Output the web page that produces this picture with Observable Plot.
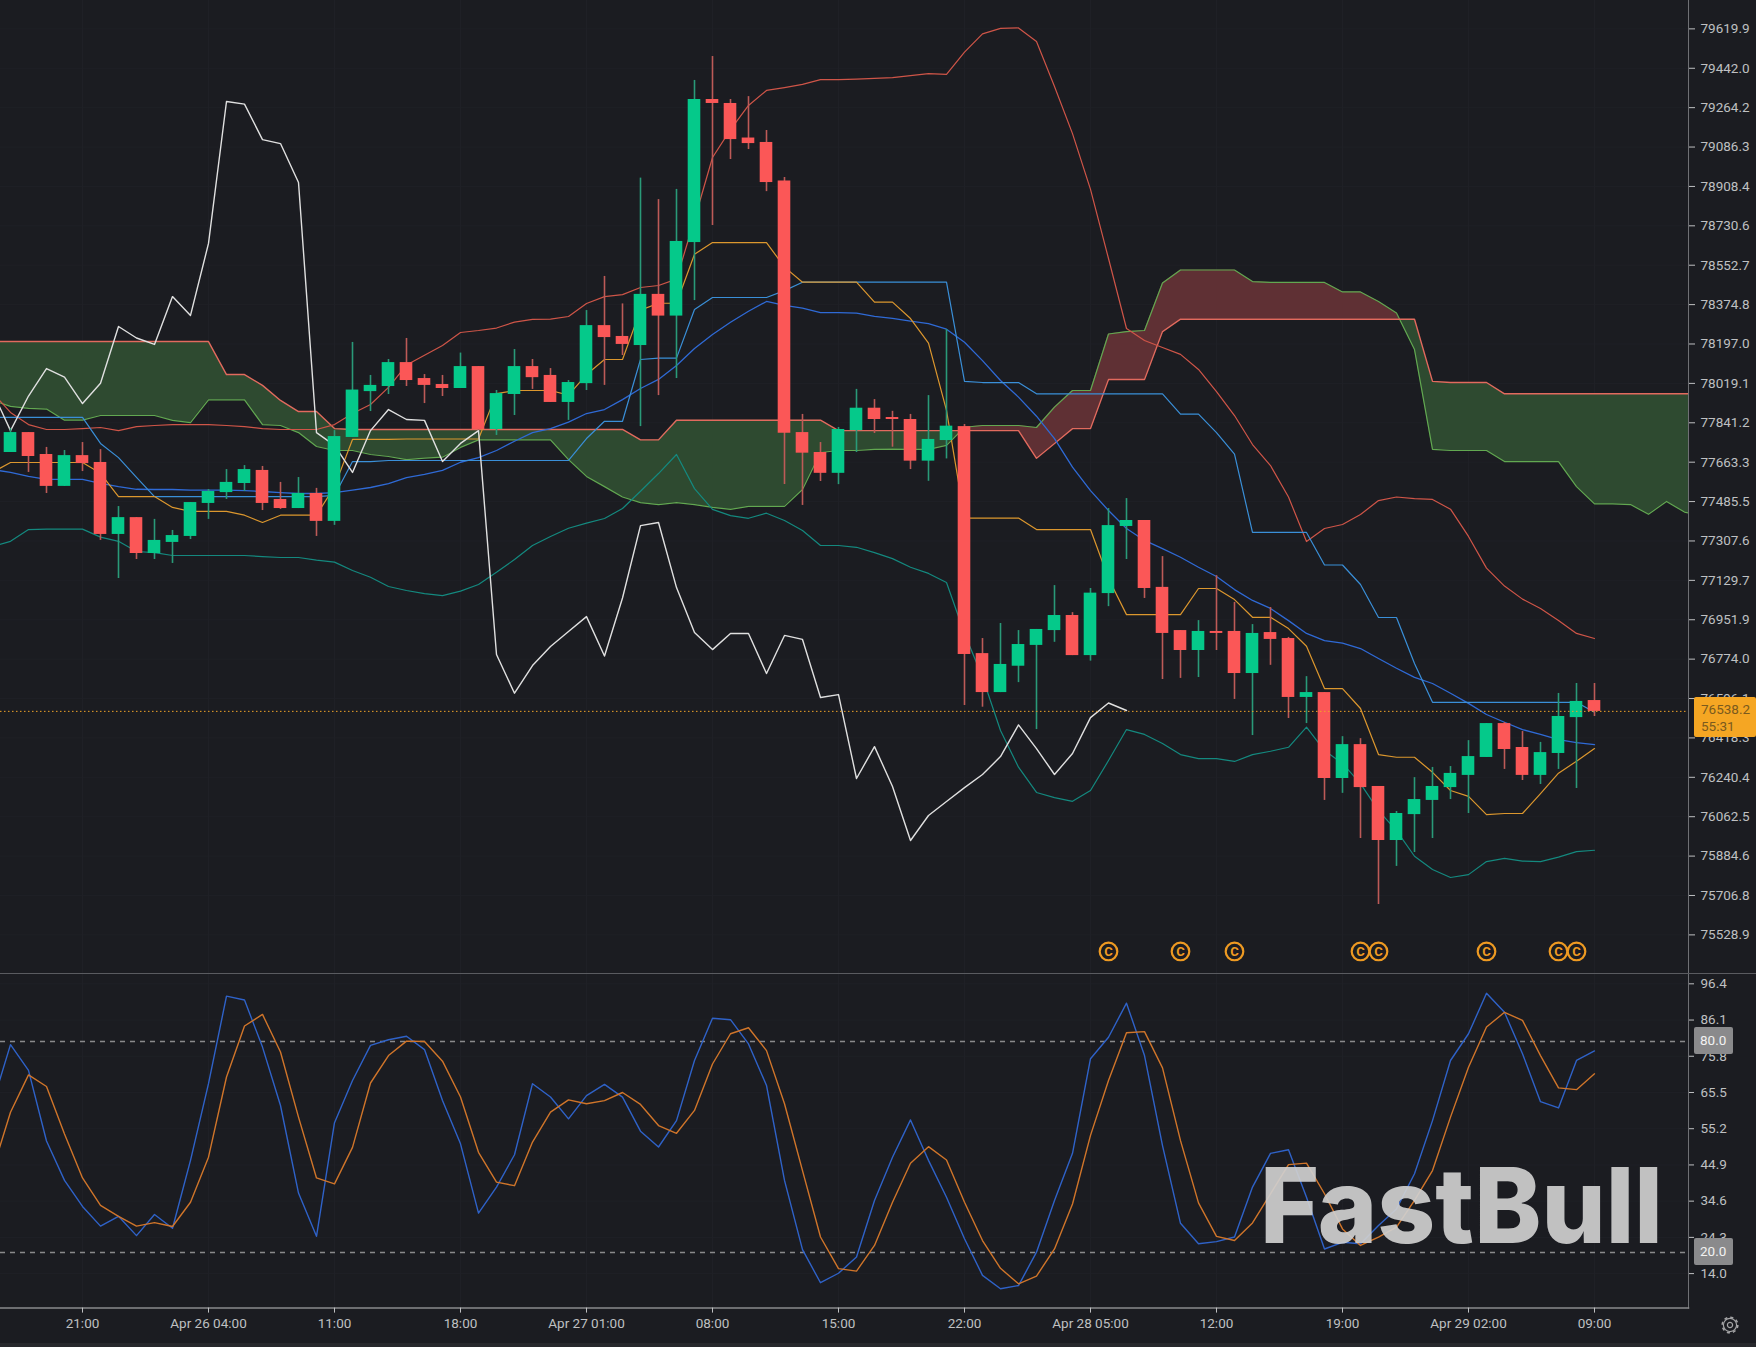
<!DOCTYPE html>
<html>
<head>
<meta charset="utf-8">
<script src="https://cdn.jsdelivr.net/npm/d3@7"></script>
<script src="https://cdn.jsdelivr.net/npm/@observablehq/plot@0.6"></script>
<style>
  html,body{margin:0;padding:0;background:#1b1c21;overflow:hidden}
  #chart{position:relative;width:1756px;height:1347px;font-family:Roboto,sans-serif;color:#bfc0c2}
  #chart svg{position:absolute;left:0;background:transparent;max-width:none}
  .tag{position:absolute;box-sizing:border-box;font-size:13.5px}
</style>
</head>
<body>
<div id="chart"></div>
<script>
const opens=[77707,77797,77698,77554,77693,77662,77337,77413,77251,77301,77328,77477,77526,77567,77626,77495,77454,77522,77396,77775,77982,78005,78113,78041,78014,77996,78095,77811,77969,78095,78055,77933,78018,78280,78231,78190,78421,78323,78655,79301,79283,79127,79107,78933,77797,77707,77613,77806,77907,77865,77856,77668,77761,77824,76799,76623,76742,76836,76903,76971,76790,77070,77373,77400,77098,76903,76813,76899,76899,76709,76894,76867,76601,76623,76235,76388,76199,75955,76072,76136,76194,76249,76330,76483,76375,76249,76348,76510,76587];
const highs=[77815,77797,77730,77716,77752,77720,77463,77413,77405,77355,77481,77540,77630,77648,77644,77572,77594,77545,77806,78204,78055,78127,78222,78059,78055,78156,78095,77987,78172,78127,78086,78032,78348,78502,78378,78946,78849,78895,79387,79495,79301,79314,79161,78949,77879,77752,77820,77992,77946,77893,77879,77964,78262,77833,76867,76935,76903,76908,77106,76984,77093,77454,77499,77400,77237,76903,76948,77151,77030,76930,77007,76872,76695,76623,76424,76415,76199,76086,76239,76285,76289,76406,76483,76488,76447,76398,76619,76664,76664];
const lows=[77707,77617,77522,77554,77621,77310,77138,77224,77224,77206,77314,77405,77495,77531,77445,77450,77454,77328,77378,77775,77892,77969,78005,77928,77960,77996,77806,77784,77874,77992,77933,77852,77987,78010,78145,77824,77964,78041,78393,78732,79030,79075,78885,77562,77468,77576,77562,77707,77793,77731,77630,77577,77678,76565,76557,76623,76668,76456,76850,76790,76765,77011,77224,77048,76682,76687,76691,76813,76592,76429,76746,76506,76483,76136,76168,75964,75666,75838,75901,75964,76140,76077,76330,76276,76226,76208,76276,76190,76515];
const closes=[77797,77689,77554,77693,77657,77337,77413,77251,77310,77332,77481,77531,77572,77630,77477,77454,77522,77396,77779,77989,78010,78113,78032,78010,77996,78095,77811,77973,78095,78045,77933,78023,78280,78226,78195,78421,78323,78660,79301,79283,79120,79102,78926,77794,77704,77613,77811,77907,77856,77856,77668,77766,77826,76795,76623,76750,76840,76908,76971,76790,77072,77377,77400,77093,76890,76813,76899,76890,76709,76890,76863,76601,76623,76235,76388,76194,75955,76077,76140,76199,76258,76334,76483,76366,76249,76352,76515,76583,76538];

// series below start one bar before the first candle
const firstBar=-1;
const bollUpper=[77978,77888,77833,77811,77811,77815,77820,77806,77824,77829,77833,77833,77833,77829,77824,77815,77811,77811,77811,77833,77883,77924,78001,78102,78146,78190,78249,78258,78269,78296,78308,78309,78321,78380,78411,78420,78452,78461,78490,78759,79039,79165,79274,79342,79355,79369,79391,79391,79393,79396,79400,79409,79418,79414,79515,79597,79622,79624,79563,79360,79147,78895,78583,78267,78213,78181,78150,78082,77982,77874,77743,77648,77506,77305,77364,77382,77427,77490,77506,77499,77495,77451,77328,77185,77104,77045,77003,76948,76890,76867];
const bollMid=[77630,77617,77599,77586,77586,77586,77568,77553,77541,77540,77540,77537,77537,77537,77535,77531,77526,77522,77522,77526,77537,77549,77567,77594,77608,77626,77663,77684,77716,77758,77797,77815,77844,77883,77901,77946,77996,78037,78100,78177,78240,78295,78345,78389,78371,78359,78339,78339,78336,78322,78313,78300,78289,78264,78205,78122,78032,77957,77871,77770,77641,77535,77445,77364,77310,77273,77234,77189,77147,77088,77039,77003,76948,76890,76858,76846,76822,76777,76733,76692,76664,76620,76574,76524,76489,76456,76434,76411,76397,76388];
const bollLower=[77283,77306,77359,77361,77361,77361,77325,77306,77260,77255,77242,77242,77242,77242,77242,77237,77233,77233,77221,77212,77174,77144,77102,77084,77070,77061,77081,77111,77166,77224,77287,77328,77365,77388,77409,77454,77532,77612,77698,77544,77450,77422,77410,77433,77400,77355,77287,77287,77279,77255,77228,77189,77161,77120,76890,76692,76452,76286,76172,76149,76132,76181,76316,76456,76434,76393,76343,76325,76325,76312,76343,76358,76376,76467,76361,76303,76212,76090,76000,75884,75824,75788,75801,75860,75874,75862,75860,75880,75905,75911];
const tenkan=[77617,77662,77662,77662,77662,77662,77613,77508,77508,77508,77459,77441,77441,77441,77424,77391,77424,77424,77424,77553,77766,77766,77766,77768,77768,77768,77768,77768,77973,77987,77987,77987,77966,78059,78127,78127,78350,78381,78381,78602,78655,78655,78655,78655,78544,78476,78476,78476,78476,78386,78386,78312,78201,77897,77411,77411,77411,77411,77359,77359,77359,77359,77138,76975,76975,76975,76975,77093,77093,77043,76963,76963,76912,76832,76641,76641,76551,76343,76331,76331,76263,76181,76154,76072,76077,76077,76167,76259,76313,76370];
const kijun=[77866,77866,77866,77866,77866,77866,77748,77684,77595,77508,77508,77508,77508,77508,77508,77508,77508,77508,77508,77513,77666,77666,77671,77671,77671,77671,77671,77671,77671,77671,77671,77671,77671,77770,77848,77848,78127,78133,78133,78353,78407,78407,78407,78407,78438,78476,78476,78476,78476,78476,78476,78476,78476,78476,78028,78023,78023,78023,77972,77972,77972,77972,77972,77972,77972,77972,77880,77880,77797,77700,77346,77346,77346,77346,77199,77199,77111,76962,76962,76754,76579,76579,76579,76579,76579,76579,76579,76579,76579,76534];
const chikou=[77982,77806,77962,78086,78047,77928,78020,78276,78224,78195,78411,78326,78651,79292,79280,79120,79102,78926,77797,77739,77617,77806,77901,77856,77852,77666,77748,77806,76795,76620,76745,76831,76899,76966,76788,77050,77377,77391,77097,76894,76817,76890,76890,76709,76881,76863,76601,76614,76235,76379,76199,75955,76068,76131,76194,76253,76334,76477,76370,76253,76348,76510,76576,76542];
const spanRed=[78208,78208,78208,78208,78208,78208,78208,78208,78208,78208,78208,78208,78208,78059,78059,78010,77942,77892,77892,77815,77811,77811,77811,77811,77811,77811,77811,77811,77811,77811,77811,77811,77811,77811,77811,77811,77764,77764,77853,77853,77853,77853,77853,77853,77853,77853,77853,77806,77806,77806,77806,77806,77806,77806,77806,77806,77806,77806,77681,77748,77815,77815,78037,78037,78037,78253,78309,78309,78309,78309,78309,78309,78309,78309,78309,78309,78309,78309,78309,78309,78028,78023,78023,78023,77972,77972,77972,77972,77972,77972,77972,77972,77972,77972,77972,77972];
const spanGreen=[77942,77915,77906,77903,77853,77853,77874,77874,77874,77874,77852,77842,77945,77945,77945,77833,77829,77797,77734,77716,77716,77698,77689,77675,77682,77686,77730,77764,77764,77764,77764,77764,77675,77599,77553,77506,77481,77472,77481,77472,77459,77450,77464,77464,77464,77540,77707,77716,77716,77721,77722,77721,77721,77739,77821,77829,77829,77829,77820,77912,77987,77987,78242,78253,78258,78472,78531,78531,78531,78531,78479,78475,78475,78475,78475,78432,78432,78389,78337,78172,77721,77716,77716,77716,77666,77666,77666,77666,77553,77475,77475,77472,77428,77486,77438,77422];
const stochK=[62.3,79.1,71.8,51.7,40.5,33.1,27.5,30.3,24.8,30.8,26.9,46.2,68,92.9,91.8,78.4,61.8,36.9,24.6,56.9,68.9,78.9,80.5,81.5,77.7,63.2,50.9,31.2,38.6,47.8,68,64.2,58,64.6,67.8,64.2,54.5,50,57.5,74.6,86.6,86.2,79.3,67.5,40.5,20.8,11.4,14.1,18.7,34.8,47.1,57.7,46.2,35.7,23.9,13.5,9.7,10.6,20.1,34.8,48.2,75.1,81.2,90.9,76,50.4,28.3,22.5,23.1,24.4,38.6,48.2,49.2,35.7,21,22.9,22.5,27.7,32.4,42.4,57.5,74.6,82.2,93.7,88.3,76.5,62.9,61.1,74.6,77.3];
const stochD=[43.3,59.9,70.5,67.2,53.7,41.2,33.4,30.3,27.5,28.5,27.4,34.3,47.1,69.9,84.4,87.7,77,58.5,41.2,39.5,49.9,68.2,76,80.1,80,74.4,64.2,48.5,40,39,51.4,59.9,63.4,62.3,63.2,65.5,62.1,56.1,53.9,60.4,73.6,82.2,83.9,77.4,62.3,43.3,24.4,15.4,14.7,22,34.3,45.4,50.1,46.3,34.3,23.4,15.5,11.1,13.3,21,33.8,53.3,68.9,82.5,82.8,72.5,51.8,34.1,24.6,23.4,28.4,36.7,45,45.4,36.7,26.7,22,24.4,27.2,34.8,43.3,58.5,72.7,84.1,88.3,86,76,66.8,66.3,70.8];

const priceTicks=[79619.9,79442.0,79264.2,79086.3,78908.4,78730.6,78552.7,78374.8,78197.0,78019.1,77841.2,77663.3,77485.5,77307.6,77129.7,76951.9,76774.0,76596.1,76418.3,76240.4,76062.5,75884.6,75706.8,75528.9];
const stochTicks=[96.4,86.1,75.8,65.5,55.2,44.9,34.6,24.3,14.0];
const stochLevels=[80,20];
const timeBars=[4,11,18,25,32,39,46,53,60,67,74,81,88];
const timeLabels=["21:00","Apr 26 04:00","11:00","18:00","Apr 27 01:00","08:00","15:00","22:00","Apr 28 05:00","12:00","19:00","Apr 29 02:00","09:00"];
const lastPrice=76538.2;
const signalBars=[61,65,68,75,76,82,86,87];
const signalPrice=75454;

const UP="#05c98a",DOWN="#fb5757",UPW="#2a9a78",DOWNW="#bd5a57";
const rows=(vals,first=firstBar)=>vals.map((v,k)=>({i:first+k,v}));
const bars=opens.map((o,i)=>({i,o,h:highs[i],l:lows[i],c:closes[i],top:Math.max(o,closes[i]),bot:Math.min(o,closes[i])}));
const ups=bars.filter(b=>b.c>=b.o),downs=bars.filter(b=>b.c<b.o);

// cloud: add crossing points so each colour closes exactly where the spans meet
const cloud=[];
spanRed.forEach((r,k)=>{
  const g=spanGreen[k],i=firstBar+k;
  cloud.push({i,r,g,top:Math.max(r,g)});
  if(k<spanRed.length-1){
    const r2=spanRed[k+1],g2=spanGreen[k+1];
    if((r-g)*(r2-g2)<0){const t=(r-g)/((r-g)-(r2-g2));const v=r+t*(r2-r);cloud.push({i:i+t,r:v,g:v,top:v});}
  }
});

const xDomain=[-10/18,1678/18];
const line=(vals,stroke,w=1.2)=>Plot.line(rows(vals),{x:"i",y:"v",stroke,strokeWidth:w,clip:true});
const GRID="#1f2026",AXIS="#6f7074",TEXT="#bfc0c2";

const main=Plot.plot({
  width:1756,height:974,marginLeft:0,marginRight:68,marginTop:0,marginBottom:0,
  style:{background:"transparent",fontFamily:"Roboto,sans-serif",fontSize:"13.5px",color:TEXT},
  x:{domain:xDomain,axis:null},
  y:{domain:[75350,79748],axis:null},
  marks:[
    Plot.ruleY(priceTicks,{stroke:GRID}),
    Plot.ruleX(timeBars,{stroke:GRID}),
    Plot.areaY(cloud,{x:"i",y1:"g",y2:"top",fill:"#2e4a30",clip:true}),
    Plot.areaY(cloud,{x:"i",y1:"r",y2:"top",fill:"#5f3034",clip:true}),
    line(spanGreen,"#62a851",1.2),
    line(spanRed,"#e26a5e",1.4),
    line(bollUpper,"#cf5548"),
    line(bollLower,"#14897f"),
    line(bollMid,"#2f6ad6",1.3),
    line(kijun,"#3a8fd8"),
    line(tenkan,"#dc972e"),
    line(chikou,"#e0e0e0",1.4),
    Plot.ruleX(ups,{x:"i",y1:"l",y2:"h",stroke:UPW,strokeWidth:1.6}),
    Plot.ruleX(downs,{x:"i",y1:"l",y2:"h",stroke:DOWNW,strokeWidth:1.6}),
    Plot.rect(ups,{x1:b=>b.i-0.35,x2:b=>b.i+0.35,y1:"bot",y2:"top",fill:UP}),
    Plot.rect(downs,{x1:b=>b.i-0.35,x2:b=>b.i+0.35,y1:"bot",y2:"top",fill:DOWN}),
    Plot.ruleY([lastPrice],{stroke:"#f0a429",strokeWidth:1,strokeDasharray:"1.5,2.5"}),
    Plot.dot(signalBars,{x:d=>d,y:()=>signalPrice,r:8.8,stroke:"#ee9a22",strokeWidth:2.2,fill:"none"}),
    Plot.text(signalBars,{x:d=>d,y:()=>signalPrice,text:()=>"C",fill:"#ee9a22",fontSize:13,fontWeight:700}),
    Plot.frame({anchor:"right",stroke:AXIS}),
    Plot.axisY({anchor:"right",ticks:priceTicks,tickSize:6,tickPadding:6,tickFormat:d=>d.toFixed(1),label:null,color:TEXT})
  ]
});

const lower=Plot.plot({
  width:1756,height:373,marginLeft:0,marginRight:68,marginTop:0,marginBottom:39.4,
  style:{background:"transparent",fontFamily:"Roboto,sans-serif",fontSize:"13.5px",color:TEXT},
  x:{domain:xDomain,axis:null},
  y:{domain:[4.19,99.05],axis:null},
  marks:[
    Plot.ruleY(stochTicks,{stroke:GRID}),
    Plot.ruleX(timeBars,{stroke:GRID}),
    Plot.ruleY(stochLevels,{stroke:"#8a8a8c",strokeWidth:1.5,strokeDasharray:"5,5"}),
    line(stochK,"#2f62c8",1.4),
    line(stochD,"#d0752a",1.4),
    Plot.frame({anchor:"right",stroke:AXIS}),
    Plot.frame({anchor:"bottom",stroke:"#8a8a8c",strokeWidth:1.5}),
    Plot.axisY({anchor:"right",ticks:stochTicks,tickSize:5,tickPadding:7,tickFormat:d=>d.toFixed(1),label:null,color:TEXT}),
    Plot.axisX({anchor:"bottom",ticks:timeBars,tickSize:5,tickPadding:5,tickFormat:d=>timeLabels[timeBars.indexOf(d)],label:null,color:TEXT})
  ]
});

const root=document.getElementById("chart");
main.style.top="0px";lower.style.top="974px";
root.append(main,lower);

const ns="http://www.w3.org/2000/svg";
const wm=document.createElementNS(ns,"svg");
wm.setAttribute("width",1756);wm.setAttribute("height",1347);wm.style.top="0";wm.style.pointerEvents="none";
const t=document.createElementNS(ns,"text");
t.textContent="FastBull";
t.setAttribute("x",1260);t.setAttribute("y",1243);t.setAttribute("textLength",403);t.setAttribute("lengthAdjust","spacingAndGlyphs");
t.setAttribute("font-family","Inter,sans-serif");t.setAttribute("font-weight","800");t.setAttribute("font-size","104");
t.setAttribute("fill","#cfcfcf");t.setAttribute("fill-opacity","0.92");
wm.appendChild(t);
// settings gear
const gear=document.createElementNS(ns,"g");
gear.setAttribute("transform","translate(1730,1325)");gear.setAttribute("fill","none");gear.setAttribute("stroke","#a4a4a6");
gear.innerHTML='<circle r="6.6" stroke-width="1.2"/><circle r="2.6" stroke-width="1.2"/><circle r="7.8" stroke-width="1.6" stroke-dasharray="3.1 3.03"/>';
wm.appendChild(gear);
root.appendChild(wm);

const addDiv=(css,html)=>{const d=document.createElement("div");d.className="tag";d.style.cssText=css;d.innerHTML=html;root.appendChild(d);return d;};
addDiv("left:0;top:973px;width:1756px;height:1px;background:#5a5b60","");
addDiv("left:0;top:1343px;width:1756px;height:4px;background:#27282c","");
addDiv("left:1694px;top:697px;width:62px;height:40px;background:#f5a623;border-radius:2px;color:#7a5a1e;padding:4px 0 0 7px;line-height:16.5px","76538.2<br>55:31");
for(const [v,top] of [["80.0",1027],["20.0",1238]])
  addDiv(`left:1694px;top:${top}px;width:39px;height:27px;background:#8a8a8c;border-radius:2px;color:#f2f2f2;padding-left:6px;line-height:27px`,v);
</script>
</body>
</html>
